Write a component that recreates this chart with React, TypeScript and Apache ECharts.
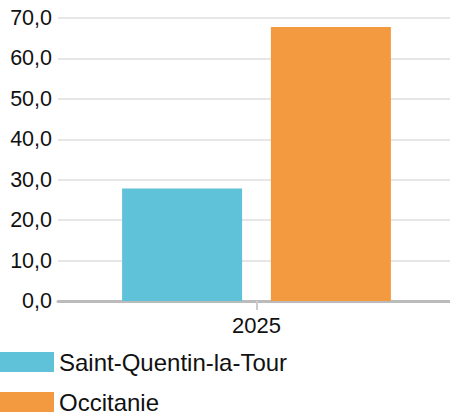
import React, { useEffect, useRef } from "react";
import * as echarts from "echarts";

const categories = ["2025"];
const seriesNames = ["Saint-Quentin-la-Tour", "Occitanie"];
const saintQuentinValues = [27.8];
const occitanieValues = [67.8];
const colors = ["#5fc2d8", "#f39a40"];

export default function App() {
  const ref = useRef<HTMLDivElement>(null);
  useEffect(() => {
    const chart = echarts.init(ref.current!, undefined, { renderer: "svg" });
    const font = "Liberation Sans, Arial, sans-serif";
    const legendBase = {
      orient: "vertical",
      left: 0,
      padding: 0,
      itemWidth: 54,
      itemHeight: 20,
      icon: "rect",
      textStyle: { fontSize: 24, color: "#111", fontFamily: font },
    };
    chart.setOption({
      animation: false,
      grid: { left: 58, right: 0, top: 18, bottom: 114, containLabel: false },
      legend: [
        { ...legendBase, top: 350, data: [seriesNames[0]] },
        { ...legendBase, top: 390, data: [seriesNames[1]] },
      ],
      xAxis: {
        type: "category",
        data: categories,
        axisLine: { lineStyle: { color: "#bbbbbb", width: 3 } },
        axisTick: { show: true, alignWithLabel: true, length: 9, lineStyle: { color: "#cccccc", width: 2 } },
        axisLabel: { fontSize: 22, color: "#111", fontFamily: font, margin: 13 },
      },
      yAxis: {
        type: "value",
        min: 0,
        max: 70,
        interval: 10,
        axisLine: { show: false },
        axisTick: { show: false },
        splitLine: { lineStyle: { color: "#e6e6e6", width: 2 } },
        axisLabel: {
          fontSize: 21.5,
          color: "#111",
          fontFamily: font,
          margin: 6,
          formatter: (v: number) => v.toFixed(1).replace(".", ","),
        },
      },
      series: [
        {
          name: seriesNames[0],
          type: "bar",
          data: saintQuentinValues,
          barWidth: 120,
          barGap: "24%",
          itemStyle: { color: colors[0] },
        },
        {
          name: seriesNames[1],
          type: "bar",
          data: occitanieValues,
          barWidth: 120,
          barGap: "24%",
          itemStyle: { color: colors[1] },
        },
      ],
    });
    return () => chart.dispose();
  }, []);
  return (
    <div
      style={{ position: "absolute", left: 0, top: 0, width: 450, height: 415, overflow: "hidden" }}
    >
      <div ref={ref} style={{ width: 455, height: 415 }} />
    </div>
  );
}
